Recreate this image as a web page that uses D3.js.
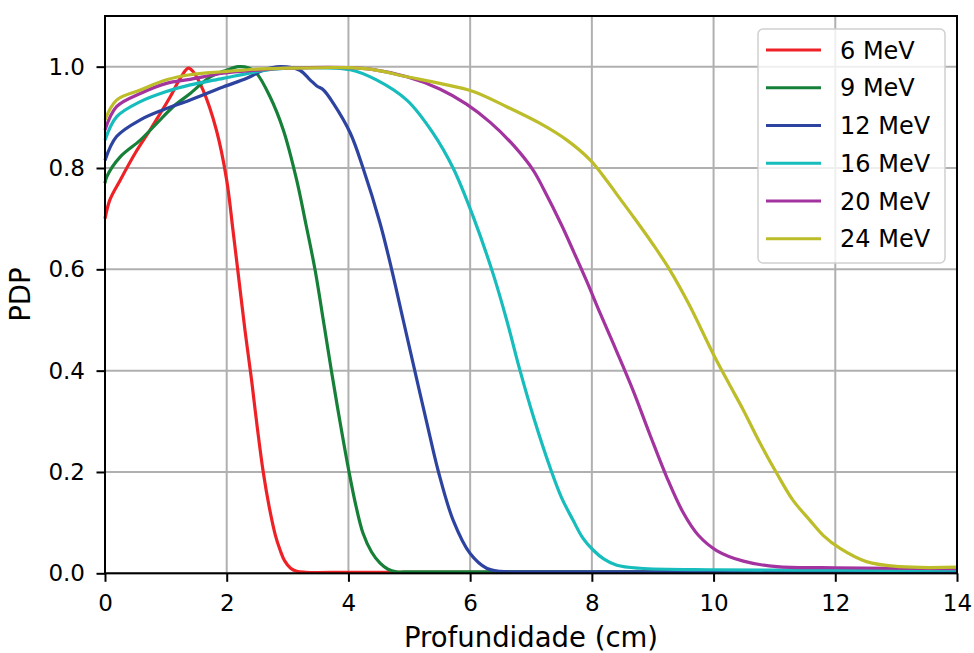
<!DOCTYPE html>
<html>
<head>
<meta charset="utf-8">
<script src="https://cdn.jsdelivr.net/npm/d3@7"></script>
<style>
  html, body { margin: 0; padding: 0; background: #fff; }
  svg { display: block; }
  text { font-family: "DejaVu Sans", sans-serif; fill: #000; }
</style>
</head>
<body>
<svg id="chart" width="974" height="653"></svg>
<script>
// ---- data ----
const seriesLabels = ["6 MeV", "9 MeV", "12 MeV", "16 MeV", "20 MeV", "24 MeV"];
const seriesColors = ["#ee2226", "#168038", "#2d43a0", "#17bcbc", "#a3339f", "#bdbd2a"];

const depth6 = [0, 0.08, 0.25, 0.5, 0.74, 1.07, 1.25, 1.37, 1.45, 1.61, 1.83, 2.0, 2.1, 2.2, 2.3, 2.41, 2.5, 2.6, 2.7, 2.8, 2.88, 2.95, 3.05, 3.15, 3.3, 4, 6, 8, 10, 12, 14];
const pdp6 = [0.70, 0.737, 0.776, 0.83, 0.875, 0.94, 0.98, 0.997, 0.99, 0.954, 0.875, 0.776, 0.68, 0.58, 0.48, 0.38, 0.29, 0.20, 0.13, 0.075, 0.045, 0.025, 0.010, 0.004, 0.002, 0.002, 0.002, 0.002, 0.002, 0.002, 0.002];

const depth9 = [0, 0.03, 0.25, 0.58, 0.85, 1.12, 1.40, 1.73, 2.0, 2.19, 2.35, 2.49, 2.71, 2.93, 3.15, 3.3, 3.45, 3.6, 3.72, 3.86, 4.01, 4.12, 4.24, 4.38, 4.52, 4.65, 4.79, 5.0, 6, 8, 10, 12, 14];
const pdp9 = [0.77, 0.783, 0.822, 0.855, 0.888, 0.921, 0.947, 0.980, 0.993, 1.0, 0.998, 0.987, 0.941, 0.875, 0.776, 0.69, 0.60, 0.49, 0.40, 0.30, 0.20, 0.135, 0.079, 0.042, 0.020, 0.008, 0.003, 0.003, 0.003, 0.003, 0.003, 0.003, 0.003];

const depth12 = [0, 0.19, 0.58, 0.96, 1.40, 1.94, 2.33, 2.60, 2.88, 3.20, 3.37, 3.48, 3.59, 3.75, 4.03, 4.24, 4.52, 4.71, 4.90, 5.09, 5.29, 5.48, 5.72, 6.0, 6.27, 6.49, 7, 8, 10, 12, 14];
const pdp12 = [0.815, 0.862, 0.895, 0.915, 0.934, 0.960, 0.977, 0.993, 1.0, 0.993, 0.974, 0.962, 0.954, 0.928, 0.869, 0.80, 0.691, 0.60, 0.50, 0.40, 0.296, 0.20, 0.105, 0.039, 0.010, 0.004, 0.003, 0.003, 0.003, 0.003, 0.003];

const depth16 = [0, 0.19, 0.58, 1.01, 1.40, 1.94, 2.49, 2.77, 3.2, 4.03, 4.46, 4.96, 5.39, 5.72, 6.05, 6.38, 6.6, 6.82, 7.05, 7.31, 7.5, 7.69, 7.85, 8.02, 8.2, 8.41, 8.79, 10, 12, 14];
const pdp16 = [0.855, 0.901, 0.931, 0.951, 0.964, 0.977, 0.990, 0.995, 0.998, 0.994, 0.974, 0.934, 0.869, 0.80, 0.704, 0.59, 0.50, 0.40, 0.305, 0.21, 0.15, 0.105, 0.07, 0.046, 0.028, 0.016, 0.010, 0.007, 0.006, 0.006];

const depth20 = [0, 0.19, 0.58, 1.01, 1.40, 1.94, 2.49, 3.0, 4.0, 4.41, 4.96, 5.50, 5.94, 6.33, 6.71, 7.04, 7.20, 7.5, 7.7, 7.91, 8.13, 8.4, 8.68, 8.95, 9.23, 9.5, 9.75, 10.05, 10.49, 11.04, 12, 14];
const pdp20 = [0.875, 0.921, 0.947, 0.967, 0.975, 0.987, 0.993, 0.997, 0.998, 0.994, 0.980, 0.956, 0.926, 0.89, 0.845, 0.795, 0.76, 0.688, 0.635, 0.578, 0.515, 0.44, 0.36, 0.275, 0.19, 0.12, 0.075, 0.045, 0.024, 0.013, 0.011, 0.009];

const depth24 = [0, 0.19, 0.58, 1.01, 1.40, 1.94, 2.5, 3.0, 4.0, 4.41, 4.96, 5.50, 6.05, 6.60, 7.15, 7.59, 7.97, 8.24, 8.41, 8.68, 9.0, 9.28, 9.6, 9.99, 10.25, 10.49, 10.75, 11.04, 11.3, 11.58, 11.8, 12.08, 12.51, 13.06, 14];
const pdp24 = [0.895, 0.934, 0.954, 0.974, 0.984, 0.990, 0.995, 0.997, 0.998, 0.994, 0.980, 0.967, 0.951, 0.921, 0.888, 0.855, 0.816, 0.776, 0.748, 0.704, 0.65, 0.599, 0.53, 0.434, 0.375, 0.322, 0.26, 0.197, 0.145, 0.105, 0.075, 0.049, 0.023, 0.013, 0.012];

const xTicks = [0, 2, 4, 6, 8, 10, 12, 14];
const yTicks = [0.0, 0.2, 0.4, 0.6, 0.8, 1.0];
const xLabel = "Profundidade (cm)";
const yLabel = "PDP";

// ---- build ----
const depths = [depth6, depth9, depth12, depth16, depth20, depth24];
const pdps = [pdp6, pdp9, pdp12, pdp16, pdp20, pdp24];
const series = seriesLabels.map((label, i) => ({
  label, color: seriesColors[i],
  points: depths[i].map((d, j) => [d, pdps[i][j]])
}));

const L = 105, R = 957, T = 16, B = 573.3;
const svg = d3.select("#chart");
const x = d3.scaleLinear().domain([0, 14]).range([L, R]);
const y = d3.scaleLinear().domain([0, 1.1]).range([B, T]);

// grid
const grid = svg.append("g");
grid.selectAll("line.gx").data(xTicks).join("line")
  .attr("x1", d => x(d)).attr("x2", d => x(d)).attr("y1", T).attr("y2", B)
  .attr("stroke", "#b0b0b0").attr("stroke-width", 2);
grid.selectAll("line.gy").data(yTicks).join("line")
  .attr("x1", L).attr("x2", R).attr("y1", d => y(d)).attr("y2", d => y(d))
  .attr("stroke", "#b0b0b0").attr("stroke-width", 2);

// lines
const line = d3.line().x(d => x(d[0])).y(d => y(d[1])).curve(d3.curveCatmullRom.alpha(0.5));
svg.append("g").selectAll("path").data(series).join("path")
  .attr("d", d => line(d.points))
  .attr("fill", "none")
  .attr("stroke", d => d.color)
  .attr("stroke-width", 3.2)
  .attr("stroke-linejoin", "round");

// frame
svg.append("rect").attr("x", L).attr("y", T).attr("width", R - L).attr("height", B - T)
  .attr("fill", "none").attr("stroke", "#000").attr("stroke-width", 2);

// axes
const xAxis = svg.append("g").attr("transform", `translate(0,${B})`)
  .call(d3.axisBottom(x).tickValues(xTicks).tickFormat(d3.format("d")).tickSize(8.5).tickPadding(13));
const yAxis = svg.append("g").attr("transform", `translate(${L},0)`)
  .call(d3.axisLeft(y).tickValues(yTicks).tickFormat(d3.format(".1f")).tickSize(8.5).tickPadding(11.5));
[xAxis, yAxis].forEach(a => {
  a.select(".domain").remove();
  a.selectAll(".tick line").attr("stroke", "#000").attr("stroke-width", 2);
  a.selectAll(".tick text").attr("font-family", "DejaVu Sans, sans-serif").attr("font-size", 23).attr("fill", "#000");
});

// axis labels
svg.append("text").attr("x", (L + R) / 2).attr("y", 646.5)
  .attr("text-anchor", "middle").attr("font-size", 27.5).text(xLabel);
svg.append("text").attr("transform", `translate(30,${(T + B) / 2}) rotate(-90)`)
  .attr("text-anchor", "middle").attr("font-size", 27.5).text(yLabel);

// legend
const lg = svg.append("g");
lg.append("rect").attr("x", 758).attr("y", 29).attr("width", 187).attr("height", 234).attr("rx", 5)
  .attr("fill", "#fff").attr("fill-opacity", 0.8).attr("stroke", "#d0d0d0").attr("stroke-width", 1.5);
const items = lg.selectAll("g.item").data(series).join("g")
  .attr("transform", (d, i) => `translate(0,${50 + i * 37.75})`);
items.append("line").attr("x1", 766).attr("x2", 821).attr("y1", 0).attr("y2", 0)
  .attr("stroke", d => d.color).attr("stroke-width", 3.2);
items.append("text").attr("x", 840).attr("y", 0).attr("dy", "0.36em")
  .attr("font-size", 24).text(d => d.label);
</script>
</body>
</html>
